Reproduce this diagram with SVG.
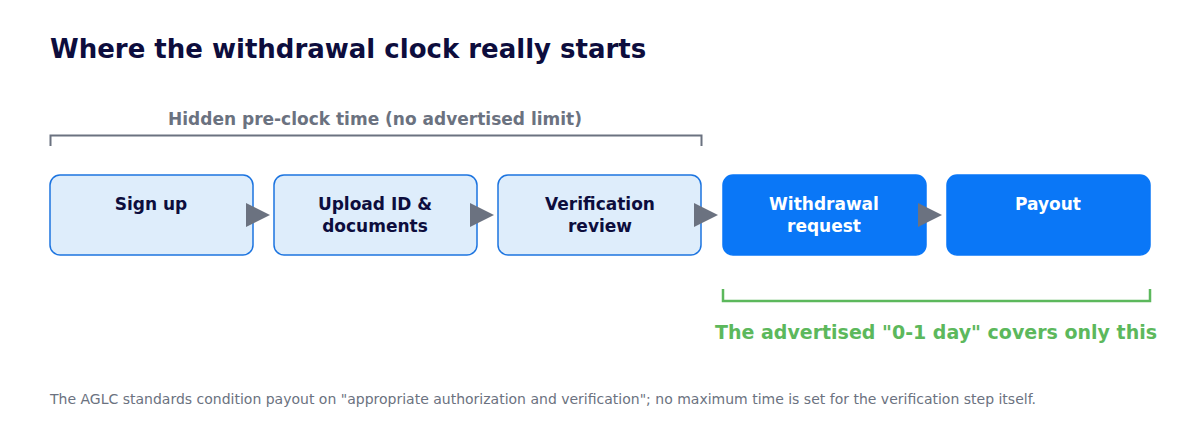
<svg xmlns="http://www.w3.org/2000/svg" width="1200" height="434" viewBox="0 0 1200 434">
<style>
text{font-family:"DejaVu Sans",sans-serif}
.t{font-size:26px;font-weight:bold;fill:#0d0d3d}
.lb{font-size:17px;font-weight:bold;text-anchor:middle}
.light rect{fill:#deedfb;stroke:#1c74e0;stroke-width:1.5}
.light text{fill:#0d0d3d}
.dark rect{fill:#0a77f7;stroke:#0a77f7;stroke-width:1.5}
.dark text{fill:#ffffff}
.arr{fill:#6b7280}
</style>
<rect width="1200" height="434" fill="#ffffff"/>
<text class="t" x="50" y="58">Where the withdrawal clock really starts</text>
<g id="hidden-bracket">
<path d="M50.5 146V135.5H701.5V146" fill="none" stroke="#6b7280" stroke-width="2"/>
<text x="375" y="125" style="font-size:17px;font-weight:bold;fill:#6b7280" text-anchor="middle">Hidden pre-clock time (no advertised limit)</text>
</g>
<g id="n1" class="light"><rect x="50" y="175" width="203" height="80" rx="10"/><text class="lb" x="151" y="210">Sign up</text></g>
<g id="n2" class="light"><rect x="274" y="175" width="203" height="80" rx="10"/><text class="lb" x="375" y="210">Upload ID &amp;</text><text class="lb" x="375" y="232">documents</text></g>
<g id="n3" class="light"><rect x="498" y="175" width="203" height="80" rx="10"/><text class="lb" x="600" y="210">Verification</text><text class="lb" x="600" y="232">review</text></g>
<g id="n4" class="dark"><rect x="723" y="175" width="203" height="80" rx="10"/><text class="lb" x="824" y="210">Withdrawal</text><text class="lb" x="824" y="232">request</text></g>
<g id="n5" class="dark"><rect x="947" y="175" width="203" height="80" rx="10"/><text class="lb" x="1048" y="210">Payout</text></g>
<g id="connectors" class="arr">
<polygon points="246,203 270,215 246,227"/>
<polygon points="470,203 494,215 470,227"/>
<polygon points="694,203 718,215 694,227"/>
<polygon points="918,203 942,215 918,227"/>
</g>
<g id="clock-bracket">
<path d="M723 289V301H1150V289" fill="none" stroke="#5cb85c" stroke-width="2.5"/>
<text x="936" y="339" style="font-size:19px;font-weight:bold;fill:#5cb85c" text-anchor="middle">The advertised "0-1 day" covers only this</text>
</g>
<text x="50" y="404" style="font-size:14px;fill:#6b7280">The AGLC standards condition payout on "appropriate authorization and verification"; no maximum time is set for the verification step itself.</text>
</svg>
